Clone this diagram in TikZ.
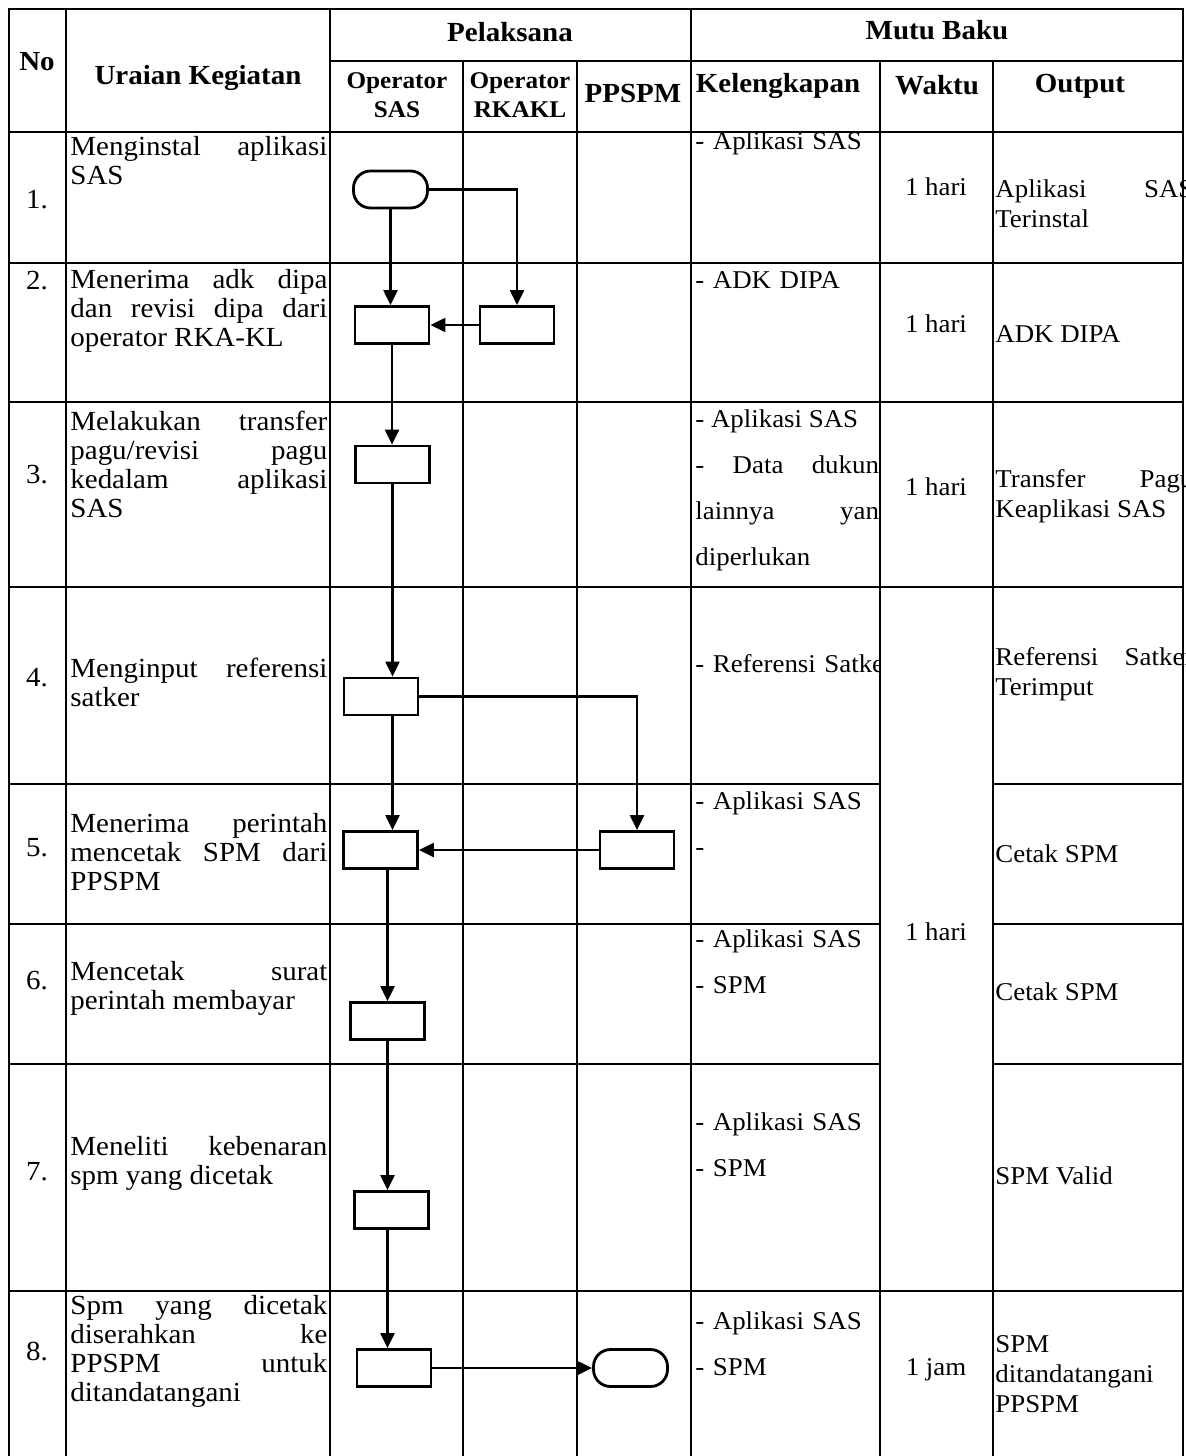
\documentclass[tikz,border=0pt]{standalone}
\usepackage{fontspec}
\setmainfont{Liberation Serif}[FakeStretch=1.05]
\usetikzlibrary{arrows.meta}
\tolerance=10000
\hbadness=10000

\begin{document}
\begin{tikzpicture}[x=0.5pt, y=-0.5pt,
  rule/.style={line width=0.65pt, line cap=rect},
  proc/.style={rectangle, draw, line width=1.4pt, minimum width=37pt, minimum height=18.5pt, inner sep=0pt},
  term/.style={proc, rounded corners=8.5pt},
  arr/.style={-{Triangle[length=7.5pt, width=7pt]}, line width=1.1pt},
  head/.style={font=\fontsize{13.8}{15}\selectfont\bfseries, inner sep=0pt},
  subhead/.style={font=\fontsize{12}{14.5}\selectfont\bfseries, text width=60pt, align=center, inner sep=0pt, anchor=base},
  num/.style={font=\fontsize{13.8}{15}\selectfont, inner sep=0pt},
  task/.style={font=\fontsize{13.8}{14.5}\selectfont, text width=128.5pt, align=justify, inner sep=0pt, anchor=base west},
  need/.style={font=\fontsize{12.8}{23}\selectfont, text width=120pt, align=left, inner sep=0pt, anchor=base west},
  dur/.style={font=\fontsize{12.8}{15}\selectfont, inner sep=0pt, anchor=base},
  res/.style={font=\fontsize{12.8}{15}\selectfont, text width=99pt, align=justify, inner sep=0pt, anchor=base west}
]
\useasboundingbox (0,0) rectangle (1186,1456);
\fill[white] (0,0) rectangle (1186,1456);
\clip (0,0) rectangle (1186,1456);

\draw[rule] (9,9) -- (1183,9);
\draw[rule] (330,61) -- (1183,61);
\foreach \y in {132,263,402,587,1291} \draw[rule] (9,\y) -- (1183,\y);
\foreach \y in {784,924,1064} {
  \draw[rule] (9,\y) -- (880,\y);
  \draw[rule] (993,\y) -- (1183,\y);
}
\foreach \x in {9,66,330,691,1183} \draw[rule] (\x,9) -- (\x,1460);
\foreach \x in {463,577,880,993} \draw[rule] (\x,61) -- (\x,1460);

\node[head] (hno) at (37,62) {No};
\node[head] (hurai) at (198,78) {Uraian Kegiatan};
\node[head] (hpel) at (510,32) {Pelaksana};
\node[head] (hmutu) at (937,30) {Mutu Baku};
\node[subhead] (hsas) at (397,88) {Operator\\SAS};
\node[subhead] (hrka) at (520,88) {Operator\\RKAKL};
\node[head] (hppspm) at (633,93) {PPSPM};
\node[head] (hkel) at (778,86) {Kelengkapan};
\node[head] (hwaktu) at (937,85) {Waktu};
\node[head] (hout) at (1080,86) {Output};

\foreach \n/\y in {1/200, 2/281, 3/475, 4/678, 5/848, 6/981, 7/1172, 8/1352}
  \node[num] (no\n) at (37,\y) {\n.};

\node[task] (u1) at (70,155) {Menginstal aplikasi\linebreak SAS};
\node[task] (u2) at (70,288) {Menerima adk dipa\linebreak dan revisi dipa dari\linebreak operator RKA-KL};
\node[task] (u3) at (70,430) {Melakukan transfer\linebreak pagu/revisi pagu\linebreak kedalam aplikasi\linebreak SAS};
\node[task] (u4) at (70,677) {Menginput referensi\linebreak satker};
\node[task] (u5) at (70,832) {Menerima perintah\linebreak mencetak SPM dari\linebreak PPSPM};
\node[task] (u6) at (70,980) {Mencetak surat\linebreak perintah membayar};
\node[task] (u7) at (70,1155) {Meneliti kebenaran\linebreak spm yang dicetak};
\node[task] (u8) at (70,1314) {Spm yang dicetak\linebreak diserahkan ke\linebreak PPSPM untuk\linebreak ditandatangani};

\begin{scope}
\clip (691,132) rectangle (880,1460);
\node[need] (k1) at (695,149) {- Aplikasi SAS};
\node[need] (k2) at (695,288) {- ADK DIPA};
\node[need, text width=98.5pt, align=justify] (k3) at (695,427) {- Aplikasi SAS\par\hangindent=6.5pt\hangafter=1 - Data dukung\linebreak lainnya yang\linebreak diperlukan};
\node[need] (k4) at (695,672) {- Referensi Satker};
\node[need] (k5) at (695,809) {- Aplikasi SAS\\-};
\node[need] (k6) at (695,947) {- Aplikasi SAS\\- SPM};
\node[need] (k7) at (695,1130) {- Aplikasi SAS\\- SPM};
\node[need] (k8) at (695,1329) {- Aplikasi SAS\\- SPM};
\end{scope}

\node[dur] (w1) at (936,195) {1 hari};
\node[dur] (w2) at (936,332) {1 hari};
\node[dur] (w3) at (936,495) {1 hari};
\node[dur] (w4) at (936,940) {1 hari};
\node[dur] (w8) at (936,1375) {1 jam};

\node[res] (o1) at (995,197) {Aplikasi SAS\linebreak Terinstal};
\node[res] (o2) at (995,342) {ADK DIPA};
\node[res] (o3) at (995,487) {Transfer Pagu\linebreak Keaplikasi SAS};
\node[res] (o4) at (995,665) {Referensi Satker\linebreak Terimput};
\node[res] (o5) at (995,862) {Cetak SPM};
\node[res] (o6) at (995,1000) {Cetak SPM};
\node[res] (o7) at (995,1184) {SPM Valid};
\node[res, align=left] (o8) at (995,1352) {SPM\\ditandatangani\\PPSPM};

\node[term] (start) at (390.5,189.5) {};
\node[proc] (adk) at (392,325) {};
\node[proc] (rkakl) at (517,325) {};
\node[proc] (pagu) at (392.5,464.5) {};
\node[proc] (satker) at (381,696.5) {};
\node[proc] (order) at (380.5,850) {};
\node[proc] (ppspm) at (637,850) {};
\node[proc] (print) at (387.5,1021) {};
\node[proc] (check) at (391.5,1210) {};
\node[proc] (handover) at (394,1368) {};
\node[term] (finish) at (630.5,1368) {};

\draw[arr] (start.south) -- (start.south |- adk.north);
\draw[arr] (start.east) -| (rkakl.north);
\draw[arr] (rkakl) -- (adk);
\draw[arr] (adk.south) -- (adk.south |- pagu.north);
\draw[arr] (pagu.south) -- (pagu.south |- satker.north);
\draw[arr] (pagu.south |- satker.south) -- (pagu.south |- order.north);
\draw[arr] (satker.east) -| (ppspm.north);
\draw[arr] (ppspm) -- (order);
\draw[arr] (print.north |- order.south) -- (print.north);
\draw[arr] (print.south) -- (print.south |- check.north);
\draw[arr] (print.south |- check.south) -- (print.south |- handover.north);
\draw[arr] (handover) -- (finish);
\end{tikzpicture}
\end{document}
